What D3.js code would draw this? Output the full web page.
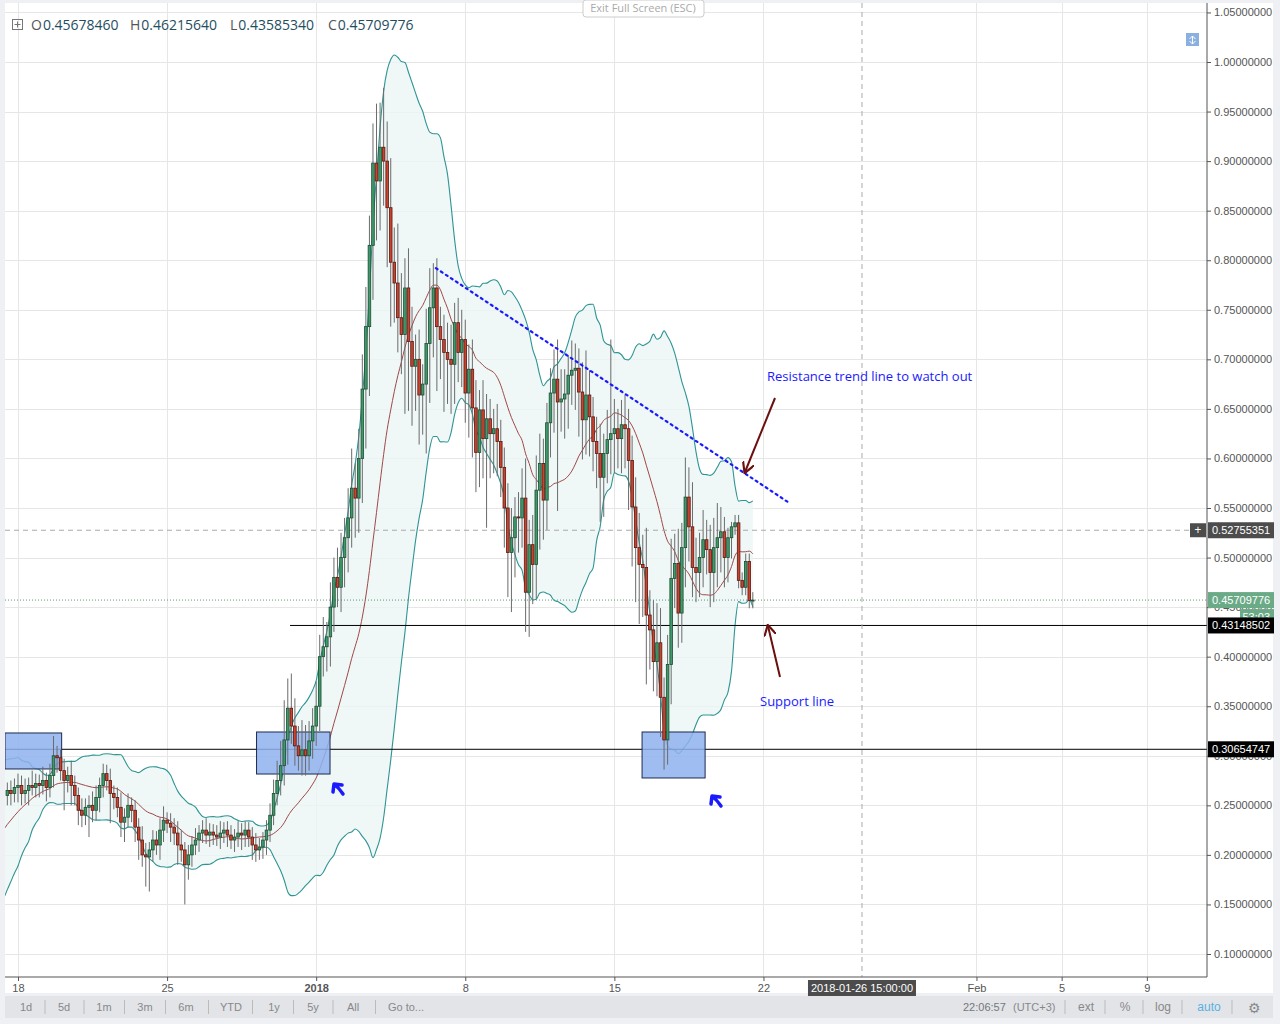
<!DOCTYPE html>
<html><head><meta charset="utf-8">
<script src="https://cdn.jsdelivr.net/npm/d3@7"></script>
<style>body{margin:0;background:#fff;font-family:"Open Sans",Arial,sans-serif}</style>
</head><body><svg id="c" width="1280" height="1024"></svg>
<script>
// ---- data ----
const preCloses=[0.17,0.175,0.18,0.19,0.185,0.2,0.21,0.2,0.22,0.23,0.225,0.24,0.25,0.245,0.26,0.27,0.265,0.275,0.27,0.26];
const earlyCloses=[0.265,0.262,0.268,0.27,0.262,0.265,0.27,0.268,0.272,0.27,0.275,0.268,0.28,0.30,0.298,0.285,0.275,0.28,0.27,0.26,0.245,0.24,0.248,0.25,0.245,0.258,0.27,0.282,0.275,0.262,0.258,0.248,0.233,0.238,0.25,0.245,0.228,0.215,0.20,0.198,0.205,0.215,0.21,0.225,0.235,0.232,0.228,0.222,0.21,0.205,0.19,0.20,0.21,0.215,0.222,0.225,0.22,0.223,0.22,0.218,0.222,0.225,0.22,0.215,0.218,0.222,0.22,0.225,0.218,0.21,0.205,0.208,0.215,0.225,0.24,0.262,0.275,0.29,0.316,0.348,0.33,0.31,0.30,0.306,0.30,0.315,0.33,0.35,0.40,0.41,0.42];
const lateCloses=[0.45,0.48,0.47,0.5,0.52,0.54,0.57,0.56,0.6,0.67,0.733,0.815,0.898,0.88,0.914,0.90,0.853,0.798,0.777,0.742,0.725,0.772,0.718,0.693,0.70,0.664,0.675,0.716,0.752,0.772,0.733,0.72,0.707,0.70,0.695,0.737,0.707,0.72,0.666,0.69,0.651,0.606,0.649,0.62,0.64,0.625,0.63,0.617,0.591,0.55,0.505,0.52,0.541,0.54,0.56,0.465,0.513,0.493,0.568,0.595,0.558,0.636,0.666,0.68,0.657,0.66,0.665,0.684,0.689,0.691,0.667,0.639,0.664,0.642,0.617,0.605,0.581,0.605,0.619,0.625,0.63,0.62,0.634,0.63,0.598,0.551,0.51,0.493,0.49,0.442,0.427,0.395,0.414,0.359,0.316,0.392,0.479,0.494,0.444,0.51,0.561,0.531,0.49,0.485,0.50,0.518,0.508,0.485,0.51,0.52,0.526,0.50,0.52,0.531,0.535,0.477,0.47,0.496,0.4568,0.4571];
// wick sizes above/below body (price units x1000), visible candles
const wickUp=[8,10,9,12,10,12,8,15,10,9,14,8,12,20,10,8,12,9,15,10,8,12,9,10,14,12,8,10,9,12,8,10,15,9,12,8,10,9,14,12,8,10,9,12,14,8,10,9,12,15,8,10,9,12,8,10,12,9,8,10,12,8,9,10,8,12,10,9,8,10,12,9,8,10,12,14,20,25,40,30,35,28,20,30,25,20,18,25,22,30,15,
 25,20,30,25,20,30,40,25,30,35,40,30,40,60,45,60,40,50,35,60,45,30,40,35,25,30,20,35,40,25,30,20,25,30,35,20,25,30,20,25,30,28,20,30,25,20,20,25,22,20,25,30,20,25,30,40,25,30,35,30,25,20,25,30,40,30,25,20,30,25,20,30,45,25,20,25,30,20,30,95,30,20,25,30,20,25,30,35,30,40,25,30,40,35,20,30,40,30,35,25,40,30,45,30,25,30,20,25,30,35,25,15,10,5];
const wickDn=[10,12,9,15,12,10,15,8,10,12,9,14,10,12,15,10,30,12,20,10,15,12,10,30,12,10,15,12,10,30,12,10,15,20,10,12,15,20,12,30,35,12,10,15,12,10,15,12,20,12,40,15,12,10,12,10,9,12,10,9,12,10,12,9,12,10,15,12,10,15,12,10,12,15,12,10,12,15,20,25,18,20,15,20,20,15,18,20,25,20,25,
 30,25,20,25,30,35,30,40,35,45,60,70,55,60,50,45,60,65,40,35,40,80,70,60,45,50,40,70,60,50,65,40,60,45,50,40,30,35,30,45,50,40,35,40,90,45,40,35,30,40,45,60,40,35,30,40,45,40,35,60,40,30,35,40,110,30,40,35,30,40,45,40,35,40,30,35,45,40,30,35,40,30,35,40,50,60,55,60,50,70,40,30,35,40,30,25,40,30,35,30,40,35,30,30,25,30,25,35,30,40,35,30,25,21];
const xTickDays=[0,7,14,21,28,35,45,49,53];
const xTickLabels=["18","25","2018","8","15","22","Feb","5","9"];
const yTicks=[0.10,0.15,0.20,0.25,0.30,0.35,0.40,0.45,0.50,0.55,0.60,0.65,0.70,0.75,0.80,0.85,0.90,0.95,1.00,1.05];
const lastDay=34.5; // Jan 21 12:00, days from Dec 18
const crossDay=39.625; // 2018-01-26 15:00
const trend=[[19.62,0.792],[36.15,0.556]];
const supportLevel=0.43148502, lowLevel=0.30654747, crossPrice=0.52755351, lastPrice=0.45709776;
const boxes=[[-0.61,2.05,0.323,0.2867],[11.2,14.65,0.324,0.2816],[29.3,32.26,0.324,0.2776]];
const ohlcLabels=[["O","0.45678460"],["H","0.46215640"],["L","0.43585340"],["C","0.45709776"]];

// ---- build ----
const svg=d3.select("#c");
const x=d3.scaleLinear().domain([-0.61,55.73]).range([5,1205]);
const y=d3.scaleLinear().domain([0.1,1.0]).range([954,62]);
svg.append("rect").attr("width",1280).attr("height",1024).attr("fill","#eef0f3");
svg.append("rect").attr("x",5).attr("y",3).attr("width",1268).attr("height",990).attr("fill","#fff");
const defs=svg.append("defs");
defs.append("clipPath").attr("id","cp").append("rect").attr("x",5).attr("y",3).attr("width",1202).attr("height",974);
const g=svg.append("g").attr("clip-path","url(#cp)");
g.selectAll(".hg").data(yTicks).join("line").attr("x1",5).attr("x2",1207).attr("y1",d=>Math.round(y(d))+.5).attr("y2",d=>Math.round(y(d))+.5).attr("stroke","#e6e6e6");
g.selectAll(".vg").data(xTickDays).join("line").attr("y1",3).attr("y2",977).attr("x1",d=>Math.round(x(d))+.5).attr("x2",d=>Math.round(x(d))+.5).attr("stroke","#e6e6e6");

const all=preCloses.concat(earlyCloses,lateCloses);
const nPre=preCloses.length, n=all.length;
const step=1/6;
const candles=[];
for(let i=nPre;i<n;i++){
  const k=i-nPre;
  const o=all[i-1], c=all[i];
  const hi=Math.max(o,c)+(wickUp[k]??8)/1000, lo=Math.min(o,c)-(wickDn[k]??8)/1000;
  candles.push({t:lastDay-(n-1-i)*step,o,c,hi,lo});
}
const bb=[];
for(let i=0;i<n;i++){
  const w=all.slice(Math.max(0,i-19),i+1);
  const m=d3.mean(w), sd=Math.sqrt(d3.mean(w,v=>(v-m)*(v-m)));
  bb.push({t:lastDay-(n-1-i)*step,m,u:m+2*sd,l:m-2*sd});
}
const bbv=bb.slice(nPre-2);
g.append("path").datum(bbv).attr("d",d3.area().x(d=>x(d.t)).y0(d=>y(d.l)).y1(d=>y(d.u)).curve(d3.curveMonotoneX)).attr("fill","#ebf5f5").attr("opacity",0.8);
["u","l"].forEach(k=>g.append("path").datum(bbv).attr("d",d3.line().x(d=>x(d.t)).y(d=>y(d[k])).curve(d3.curveMonotoneX)).attr("fill","none").attr("stroke","#2e9494").attr("stroke-width",1.1));
g.append("path").datum(bbv).attr("d",d3.line().x(d=>x(d.t)).y(d=>y(d.m)).curve(d3.curveMonotoneX)).attr("fill","none").attr("stroke","#a04848").attr("stroke-width",1);

g.append("line").attr("x1",290).attr("x2",1207).attr("y1",y(supportLevel)).attr("y2",y(supportLevel)).attr("stroke","#000");
g.append("line").attr("x1",5).attr("x2",1207).attr("y1",y(lowLevel)).attr("y2",y(lowLevel)).attr("stroke","#000");
g.append("line").attr("x1",5).attr("x2",1207).attr("y1",y(lastPrice)).attr("y2",y(lastPrice)).attr("stroke","#5a9a78").attr("stroke-dasharray","1,2");
g.append("line").attr("x1",5).attr("x2",1190).attr("y1",y(crossPrice)).attr("y2",y(crossPrice)).attr("stroke","#aaa").attr("stroke-dasharray","5,4");
g.append("line").attr("x1",x(crossDay)).attr("x2",x(crossDay)).attr("y1",3).attr("y2",977).attr("stroke","#aaa").attr("stroke-dasharray","5,4");

g.selectAll(".bx").data(boxes).join("rect").attr("x",d=>x(d[0])).attr("width",d=>x(d[1])-x(d[0])).attr("y",d=>y(d[2])).attr("height",d=>y(d[3])-y(d[2])).attr("fill","#8fb2ee").attr("fill-opacity",0.85).attr("stroke","#1c2a50").attr("stroke-width",1);

const cw=2.6;
const cg=g.selectAll(".cd").data(candles).join("g");
cg.append("line").attr("x1",d=>x(d.t)).attr("x2",d=>x(d.t)).attr("y1",d=>y(d.hi)).attr("y2",d=>y(d.lo)).attr("stroke","#6b6b6b").attr("stroke-width",1);
cg.append("rect").attr("x",d=>x(d.t)-cw/2).attr("width",cw).attr("y",d=>y(Math.max(d.o,d.c))).attr("height",d=>Math.max(1,Math.abs(y(d.o)-y(d.c))))
 .attr("fill",d=>d.c>=d.o?"#3f9a6a":"#c9432f").attr("stroke",d=>d.c>=d.o?"#1d4d33":"#5a1810").attr("stroke-width",0.8);

g.append("line").attr("x1",x(trend[0][0])).attr("y1",y(trend[0][1])).attr("x2",x(trend[1][0])).attr("y2",y(trend[1][1])).attr("stroke","#1a1aff").attr("stroke-width",2.2).attr("stroke-dasharray","2,4").attr("stroke-linecap","round");

defs.append("marker").attr("id","ah").attr("viewBox","0 0 10 10").attr("refX",8).attr("refY",5).attr("markerWidth",6).attr("markerHeight",6).attr("orient","auto")
 .append("path").attr("d","M0,0 L9,5 L0,10").attr("fill","none").attr("stroke","#6b0f0f").attr("stroke-width",1.8);
svg.append("line").attr("x1",775).attr("y1",398).attr("x2",745).attr("y2",472).attr("stroke","#6b0f0f").attr("stroke-width",2).attr("marker-end","url(#ah)");
svg.append("line").attr("x1",780).attr("y1",677).attr("x2",768).attr("y2",626).attr("stroke","#6b0f0f").attr("stroke-width",2).attr("marker-end","url(#ah)");
[[338,789],[716,801]].forEach(([ax,ay])=>svg.append("path").attr("d",`M${ax-5},${ay+3} L${ax-4},${ay-5} L${ax+4},${ay-4} M${ax-4},${ay-5} Q${ax+1},${ay-1} ${ax+5},${ay+5}`).attr("fill","none").attr("stroke","#1a1aff").attr("stroke-width",3.5).attr("stroke-linecap","round").attr("stroke-linejoin","round"));

svg.append("text").attr("x",767).attr("y",381).text("Resistance trend line to watch out").attr("fill","#1a1aff").attr("font-size",13);
svg.append("text").attr("x",760).attr("y",706).text("Support line").attr("fill","#1a1aff").attr("font-size",13);

const ax=svg.append("g").attr("transform","translate(1207,0)").call(d3.axisRight(y).tickValues(yTicks).tickSize(4).tickFormat(d=>d.toFixed(8)));
ax.select(".domain").attr("d","M0,3V977").attr("stroke","#555");
ax.selectAll("text").attr("font-size",11).attr("fill","#555").attr("font-family","Arial,sans-serif");
ax.selectAll("line").attr("stroke","#555");
const bx=svg.append("g").attr("transform","translate(0,977)").call(d3.axisBottom(x).tickValues(xTickDays).tickSize(4).tickFormat((d,i)=>xTickLabels[i]));
bx.select(".domain").attr("d","M5,0H1207").attr("stroke","#555");
bx.selectAll("text").attr("font-size",11).attr("fill","#555").attr("font-family","Arial,sans-serif").attr("font-weight",(d,i)=>xTickLabels[i]==="2018"?"bold":"normal");
bx.selectAll("line").attr("stroke","#555");

function tag(p,txt,fill){
  const yy=y(p);
  svg.append("rect").attr("x",1208).attr("y",yy-8).attr("width",66).attr("height",16).attr("fill",fill);
  svg.append("text").attr("x",1212).attr("y",yy+4).text(txt).attr("fill","#fff").attr("font-size",11).attr("font-family","Arial,sans-serif");
}
tag(crossPrice,crossPrice.toFixed(8),"#4c4c4c");
svg.append("rect").attr("x",1190).attr("y",y(crossPrice)-7).attr("width",16).attr("height",14).attr("fill","#4c4c4c");
svg.append("text").attr("x",1198).attr("y",y(crossPrice)+4).attr("text-anchor","middle").text("+").attr("fill","#fff").attr("font-size",12);
tag(lastPrice,lastPrice.toFixed(8),"#6aaa87");
svg.append("rect").attr("x",1240).attr("y",y(lastPrice)+9).attr("width",34).attr("height",15).attr("fill","#6aaa87");
svg.append("text").attr("x",1270).attr("y",y(lastPrice)+21).attr("text-anchor","end").text("53:03").attr("fill","#fff").attr("font-size",11).attr("font-family","Arial,sans-serif");
tag(supportLevel,supportLevel.toFixed(8),"#000");
tag(lowLevel,lowLevel.toFixed(8),"#000");
svg.append("rect").attr("x",x(crossDay)-54).attr("y",980).attr("width",108).attr("height",16).attr("fill","#4c4c4c");
svg.append("text").attr("x",x(crossDay)).attr("y",992).attr("text-anchor","middle").text("2018-01-26 15:00:00").attr("fill","#fff").attr("font-size",11).attr("font-family","Arial,sans-serif");

const hx=[31,130,230,328];
ohlcLabels.forEach(([k,v],i)=>{
  const t=svg.append("text").attr("x",hx[i]).attr("y",30).attr("font-size",14).attr("font-family","'Open Sans',sans-serif");
  t.append("tspan").text(k).attr("fill","#555");
  t.append("tspan").text(v).attr("fill","#1f4e5f").attr("dx",1);
});
svg.append("rect").attr("x",12.5).attr("y",19.5).attr("width",10).attr("height",10).attr("fill","none").attr("stroke","#777");
svg.append("path").attr("d","M17.5,21.5V27.5M14.5,24.5H20.5").attr("stroke","#777");
svg.append("rect").attr("x",583).attr("y",0).attr("width",121).attr("height",17).attr("rx",3).attr("fill","#fff").attr("stroke","#ccc");
svg.append("text").attr("x",643).attr("y",12).attr("text-anchor","middle").text("Exit Full Screen (ESC)").attr("fill","#aaa").attr("font-size",11);
svg.append("rect").attr("x",1186).attr("y",33).attr("width",13).attr("height",13).attr("fill","#8ab0e0");
svg.append("path").attr("d","M1192.5,36V44M1189.5,39L1192.5,36L1195.5,39M1189.5,41L1192.5,44L1195.5,41").attr("stroke","#fff").attr("fill","none");

svg.append("rect").attr("x",5).attr("y",996).attr("width",1268).attr("height",22).attr("fill","#e2e4e8");
const tb=["1d","5d","1m","3m","6m","YTD","1y","5y","All","Go to..."], tbx=[26,64,104,145,186,231,274,313,353,406];
tb.forEach((t,i)=>{svg.append("text").attr("x",tbx[i]).attr("y",1011).attr("text-anchor","middle").text(t).attr("fill","#888").attr("font-size",11).attr("font-family","Arial,sans-serif");
 if(i<9) svg.append("line").attr("x1",(tbx[i]+tbx[i+1])/2-(i==8?4:0)).attr("x2",(tbx[i]+tbx[i+1])/2-(i==8?4:0)).attr("y1",1000).attr("y2",1014).attr("stroke","#bbb");});
svg.append("text").attr("x",963).attr("y",1011).text("22:06:57").attr("fill","#777").attr("font-size",11).attr("font-family","Arial,sans-serif");
svg.append("text").attr("x",1013).attr("y",1011).text("(UTC+3)").attr("fill","#888").attr("font-size",11).attr("font-family","Arial,sans-serif");
[["ext",1086,"#888"],["%",1125,"#888"],["log",1163,"#888"],["auto",1209,"#5bb0e0"]].forEach(([t,xx,c])=>svg.append("text").attr("x",xx).attr("y",1011).attr("text-anchor","middle").text(t).attr("fill",c).attr("font-size",12).attr("font-family","Arial,sans-serif"));
[1065,1105,1143,1182,1232].forEach(xx=>svg.append("line").attr("x1",xx).attr("x2",xx).attr("y1",1000).attr("y2",1014).attr("stroke","#bbb"));
svg.append("text").attr("x",1254).attr("y",1013).attr("text-anchor","middle").text("⚙").attr("fill","#888").attr("font-size",14);
</script></body></html>
